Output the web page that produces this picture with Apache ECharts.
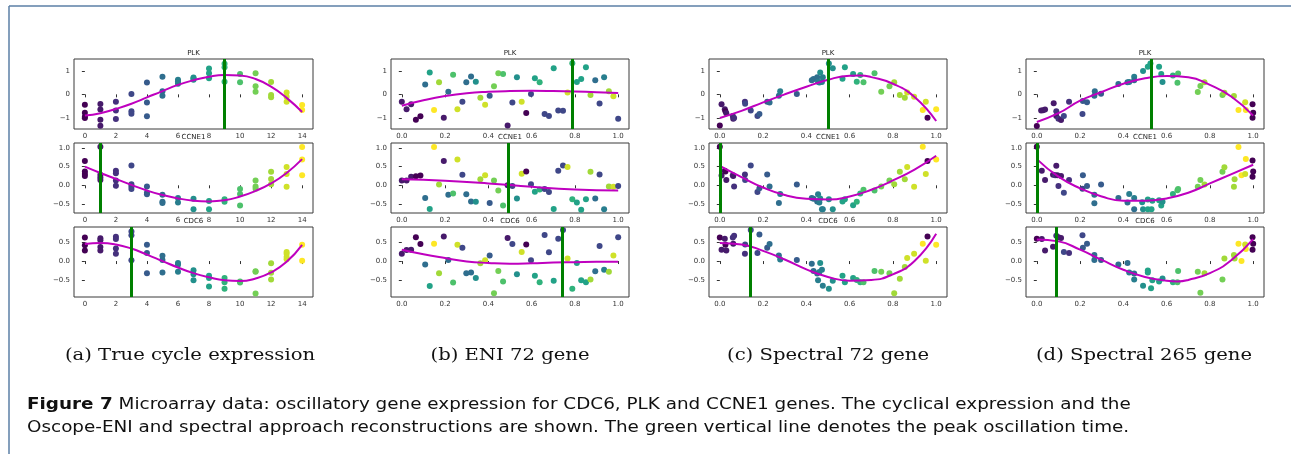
<!DOCTYPE html>
<html>
<head>
<meta charset="utf-8">
<script src="https://cdn.jsdelivr.net/npm/echarts@6/dist/echarts.min.js"></script>
<style>
  html, body { margin: 0; padding: 0; background: #fff; }
  #chart { width: 1291px; height: 454px; }
</style>
</head>
<body>
<div id="chart"></div>
<script>
// 基因名称与子图标题
const genes = ['PLK', 'CCNE1', 'CDC6'];
const captions = ['(a) True cycle expression', '(b) ENI 72 gene', '(c) Spectral 72 gene', '(d) Spectral 265 gene'];

// viridis 色带（按真实时间着色）
const viridis = ['#440154', '#482878', '#3e4989', '#31688e', '#26828e', '#1f9e89', '#35b779', '#6ece58', '#b5de2b', '#fde725'];

// (a) 真实周期: [时间, 表达量]
const plkTrue = [
    [0, -0.44], [0, -0.78], [0, -0.95], [0, -1.0],
    [1, -0.41], [1, -0.64], [1, -1.08], [1, -1.33],
    [2, -0.31], [2, -0.69], [2, -1.05],
    [3, 0.02], [3, -0.72], [3, -0.82],
    [4, 0.5], [4, -0.35], [4, -0.93],
    [5, 0.75], [5, 0.13], [5, -0.06],
    [6, 0.62], [6, 0.55], [6, 0.45],
    [7, 0.72], [7, 0.67], [7, 0.62],
    [8, 1.1], [8, 0.9], [8, 0.68],
    [9, 1.3], [9, 1.15], [9, 0.53],
    [10, 0.86], [10, 0.51],
    [11, 0.9], [11, 0.34], [11, 0.11],
    [12, 0.52], [12, -0.03], [12, -0.12],
    [13, 0.08], [13, -0.1], [13, -0.31],
    [14, -0.45], [14, -0.66]
];
const ccne1True = [
    [0, 0.65], [0, 0.37], [0, 0.3], [0, 0.25],
    [1, 1.03], [1, 0.28], [1, 0.21], [1, 0.14],
    [2, 0.39], [2, 0.32], [2, 0.13], [2, -0.01],
    [3, 0.53], [3, 0.03], [3, -0.03], [3, -0.1],
    [4, -0.03], [4, -0.2], [4, -0.24],
    [5, -0.25], [5, -0.44], [5, -0.47],
    [6, -0.34], [6, -0.46],
    [7, -0.36], [7, -0.64],
    [8, -0.42], [8, -0.64],
    [9, -0.37], [9, -0.44],
    [10, -0.1], [10, -0.23], [10, -0.54],
    [11, 0.13], [11, -0.03], [11, -0.09],
    [12, 0.36], [12, 0.17], [12, 0.03],
    [13, 0.49], [13, 0.3], [13, -0.04],
    [14, 1.02], [14, 0.69], [14, 0.27]
];
const cdc6True = [
    [0, 0.62], [0, 0.42], [0, 0.28],
    [1, 0.6], [1, 0.55], [1, 0.37], [1, 0.28],
    [2, 0.64], [2, 0.58], [2, 0.33], [2, 0.19],
    [3, 0.78], [3, 0.68], [3, 0.02],
    [4, 0.43], [4, 0.21], [4, -0.32],
    [5, 0.14], [5, 0.03], [5, -0.3],
    [6, -0.05], [6, -0.1], [6, -0.28],
    [7, -0.24], [7, -0.35], [7, -0.51],
    [8, -0.39], [8, -0.45], [8, -0.67],
    [9, -0.45], [9, -0.56], [9, -0.73],
    [10, -0.54], [10, -0.57],
    [11, -0.27], [11, -0.28], [11, -0.86],
    [12, -0.06], [12, -0.31], [12, -0.49],
    [13, 0.24], [13, 0.19], [13, 0.11], [13, 0.05],
    [14, 0.43], [14, 0.01]
];

// (b) ENI 72 gene: 伪时间位置、真实时间、各基因表达量
const xsB = [0.0, 0.022, 0.043, 0.065, 0.086, 0.108, 0.129, 0.149, 0.172, 0.194, 0.215, 0.237, 0.257, 0.28, 0.298, 0.32,
    0.342, 0.363, 0.385, 0.406, 0.426, 0.446, 0.468, 0.489, 0.511, 0.532, 0.554, 0.575, 0.597, 0.615, 0.637, 0.66,
    0.68, 0.702, 0.723, 0.745, 0.766, 0.788, 0.809, 0.829, 0.851, 0.872, 0.894, 0.914, 0.935, 0.957, 0.978, 1.0];
const tsB = [1, 1, 1, 0, 0, 5, 8, 14, 12, 1, 5, 10, 13, 3, 5, 5, 7, 12, 13, 4, 11, 11, 10, 1, 3, 7, 13, 0, 3, 8, 9, 3,
    3, 8, 3, 3, 13, 9, 8, 8, 8, 12, 5, 3, 6, 12, 13, 3];
const plkB = [-0.31, -0.63, -0.42, -1.08, -0.93, 0.42, 0.93, -0.66, 0.51, -0.99, 0.11, 0.83, -0.63, -0.31, 0.51, 0.76,
    0.54, -0.14, -0.44, -0.06, 0.34, 0.9, 0.86, -1.32, -0.35, 0.73, -0.31, -0.79, 0.01, 0.68, 0.51, -0.83,
    -0.92, 1.11, -0.68, -0.7, 0.08, 1.32, 0.52, 0.65, 1.15, -0.03, 0.6, -0.39, 0.73, 0.13, -0.08, -1.04];
const ccne1B = [0.13, 0.13, 0.23, 0.24, 0.26, -0.34, -0.63, 1.02, 0.02, 0.65, -0.25, -0.22, 0.69, 0.28, -0.24, -0.43,
    -0.44, 0.16, 0.27, -0.47, 0.13, -0.14, -0.54, 0.0, -0.02, -0.35, 0.31, 0.37, 0.03, -0.17, -0.11, -0.1,
    -0.18, -0.63, 0.39, 0.53, 0.49, -0.37, -0.46, -0.65, -0.37, 0.36, -0.35, 0.29, -0.64, -0.03, -0.04, -0.02];
const cdc6B = [0.19, 0.29, 0.3, 0.63, 0.45, -0.09, -0.66, 0.46, -0.32, 0.65, 0.03, -0.57, 0.43, 0.35, -0.32, -0.3,
    -0.45, -0.06, 0.02, 0.15, -0.85, -0.26, -0.54, 0.61, 0.45, -0.35, 0.24, 0.44, 0.02, -0.39, -0.56, 0.69,
    0.23, -0.52, 0.59, 0.82, 0.07, -0.73, -0.05, -0.51, -0.56, -0.49, -0.27, 0.4, -0.23, -0.28, 0.15, 0.63];

// (c) Spectral 72 gene
const xsC = [0.0, 0.008, 0.023, 0.026, 0.03, 0.06, 0.062, 0.066, 0.116, 0.117, 0.143, 0.174, 0.183, 0.219, 0.23, 0.273,
    0.279, 0.356, 0.425, 0.433, 0.45, 0.454, 0.46, 0.464, 0.472, 0.476, 0.504, 0.522, 0.567, 0.578, 0.616, 0.633,
    0.649, 0.664, 0.715, 0.746, 0.784, 0.806, 0.832, 0.855, 0.866, 0.898, 0.938, 0.952, 0.96, 1.0];
const tsC = [0, 1, 1, 0, 1, 2, 1, 2, 2, 3, 3, 3, 4, 4, 5, 5, 6, 4, 5, 5, 5, 6, 6, 7, 6, 6, 7, 7, 8, 8, 8, 9,
    9, 10, 10, 11, 11, 12, 12, 12, 13, 13, 14, 13, 0, 14];
const plkC = [-1.32, -0.42, -0.63, -0.72, -0.8, -0.92, -1.04, -1.0, -0.31, -0.4, -0.69, -0.92, -0.83, -0.31, -0.35, -0.06,
    0.13, 0.01, 0.6, 0.65, 0.73, 0.53, 0.5, 0.93, 0.52, 0.73, 1.31, 1.11, 0.66, 1.15, 0.86, 0.54,
    0.82, 0.51, 0.9, 0.11, 0.34, 0.51, -0.03, -0.14, 0.08, -0.1, -0.66, -0.31, -0.99, -0.63];
const ccne1C = [1.03, 0.26, 0.39, 0.37, 0.14, 0.27, 0.25, -0.03, 0.29, 0.14, 0.53, -0.18, -0.08, 0.29, -0.03, -0.47,
    -0.23, 0.02, -0.34, -0.36, -0.43, -0.24, -0.46, -0.35, -0.64, -0.64, -0.37, -0.64, -0.43, -0.37, -0.53, -0.44,
    -0.22, -0.12, -0.14, -0.03, 0.13, 0.03, 0.36, 0.16, 0.49, -0.04, 1.03, 0.3, 0.65, 0.69];
const cdc6C = [0.62, 0.3, 0.59, 0.43, 0.28, 0.62, 0.46, 0.67, 0.19, 0.44, 0.82, 0.21, 0.7, 0.35, 0.45, 0.15,
    0.04, 0.03, -0.07, -0.26, -0.33, -0.51, -0.29, -0.05, -0.23, -0.65, -0.73, -0.52, -0.39, -0.56, -0.45, -0.5,
    -0.56, -0.56, -0.26, -0.28, -0.32, -0.85, -0.47, -0.16, 0.08, 0.19, 0.46, 0.01, 0.65, 0.43];

// (d) Spectral 265 gene: [伪时间, 表达量, 真实时间]
const plkD = [
    [0.0, -1.34, 0], [0.02, -0.69, 1], [0.029, -0.67, 1], [0.038, -0.64, 1], [0.078, -0.38, 1], [0.09, -0.72, 2],
    [0.09, -0.92, 1], [0.1, -1.03, 2], [0.112, -1.09, 1], [0.125, -0.92, 3], [0.149, -0.31, 2], [0.211, -0.83, 3],
    [0.213, -0.28, 4], [0.232, -0.34, 4], [0.268, 0.13, 5], [0.266, -0.06, 5], [0.297, 0.03, 4], [0.377, 0.44, 5],
    [0.419, 0.51, 5], [0.427, 0.52, 6], [0.45, 0.75, 6], [0.45, 0.6, 5], [0.491, 0.99, 7], [0.513, 1.17, 8],
    [0.525, 1.31, 8], [0.565, 1.17, 8], [0.575, 0.86, 8], [0.581, 0.52, 7], [0.629, 0.8, 9], [0.653, 0.89, 10],
    [0.65, 0.49, 10], [0.744, 0.1, 11], [0.756, 0.35, 11], [0.775, 0.51, 12], [0.858, -0.03, 11], [0.867, 0.07, 12],
    [0.911, -0.07, 12], [0.932, -0.66, 14], [0.963, -0.33, 13], [0.966, -0.66, 14], [0.997, -0.42, 0],
    [1.0, -0.78, 0], [0.997, -0.99, 0]
];
const ccne1D = [
    [0.0, 1.03, 0], [0.023, 0.39, 1], [0.038, 0.14, 1], [0.075, 0.28, 1], [0.085, 0.27, 2], [0.09, 0.52, 1],
    [0.095, 0.27, 1], [0.1, -0.02, 2], [0.112, 0.25, 1], [0.125, -0.2, 3], [0.149, 0.14, 2], [0.211, -0.09, 3],
    [0.213, 0.27, 4], [0.232, -0.02, 4], [0.266, -0.25, 5], [0.266, -0.48, 5], [0.297, 0.02, 4], [0.377, -0.34, 5],
    [0.419, -0.46, 5], [0.427, -0.23, 6], [0.45, -0.34, 6], [0.45, -0.64, 5], [0.491, -0.64, 7], [0.487, -0.45, 7],
    [0.513, -0.38, 8], [0.513, -0.64, 8], [0.534, -0.41, 8], [0.53, -0.64, 8], [0.565, -0.4, 8], [0.575, -0.54, 8],
    [0.581, -0.44, 7], [0.629, -0.23, 9], [0.65, -0.13, 10], [0.653, -0.1, 10], [0.744, -0.04, 11], [0.756, 0.14, 11],
    [0.775, 0.02, 12], [0.858, 0.36, 11], [0.867, 0.48, 12], [0.911, -0.04, 12], [0.914, 0.16, 12], [0.932, 1.02, 14],
    [0.946, 0.27, 14], [0.963, 0.3, 13], [0.966, 0.7, 14], [0.997, 0.66, 0], [1.0, 0.37, 0], [0.997, 0.23, 0]
];
const cdc6D = [
    [0.0, 0.59, 0], [0.023, 0.58, 1], [0.038, 0.28, 1], [0.075, 0.38, 1], [0.09, 0.67, 2], [0.1, 0.63, 1],
    [0.112, 0.61, 1], [0.125, 0.24, 3], [0.149, 0.21, 2], [0.211, 0.68, 3], [0.213, 0.35, 4], [0.232, 0.46, 4],
    [0.266, 0.16, 5], [0.266, 0.03, 5], [0.297, 0.03, 4], [0.377, -0.09, 5], [0.419, -0.05, 5], [0.427, -0.3, 6],
    [0.45, -0.49, 6], [0.45, -0.33, 5], [0.491, -0.65, 7], [0.513, -0.25, 8], [0.513, -0.3, 8], [0.528, -0.72, 8],
    [0.534, -0.51, 8], [0.565, -0.54, 8], [0.581, -0.46, 7], [0.629, -0.56, 9], [0.65, -0.56, 10], [0.653, -0.26, 10],
    [0.744, -0.28, 11], [0.756, -0.84, 11], [0.775, -0.32, 12], [0.858, -0.49, 11], [0.867, 0.07, 12], [0.911, 0.16, 12],
    [0.914, 0.07, 12], [0.932, 0.46, 14], [0.946, 0.0, 14], [0.963, 0.44, 13], [0.966, 0.32, 14], [0.997, 0.63, 0],
    [1.0, 0.46, 0], [0.997, 0.3, 0]
];

// 拟合曲线（从图中读取的点）
const fitPlkA = [[0, -0.9], [1, -0.8], [2, -0.62], [3, -0.4], [4, -0.13], [5, 0.14], [6, 0.4], [7, 0.6], [8, 0.75], [9, 0.82], [10, 0.8], [11, 0.65], [12, 0.33], [13, -0.15], [14, -0.75]];
const fitCcne1A = [[0, 0.5], [1, 0.33], [2, 0.17], [3, 0.01], [4, -0.14], [5, -0.26], [6, -0.35], [7, -0.41], [8, -0.43], [9, -0.4], [10, -0.3], [11, -0.15], [12, 0.05], [13, 0.33], [14, 0.7]];
const fitCdc6A = [[0, 0.45], [1, 0.48], [2, 0.44], [3, 0.33], [4, 0.17], [5, 0.0], [6, -0.17], [7, -0.32], [8, -0.43], [9, -0.51], [10, -0.53], [11, -0.46], [12, -0.3], [13, -0.02], [14, 0.43]];
const fitPlkB = [[0, -0.48], [0.1, -0.25], [0.2, -0.07], [0.3, 0.05], [0.4, 0.11], [0.5, 0.14], [0.6, 0.15], [0.7, 0.14], [0.8, 0.12], [0.9, 0.09], [1.0, 0.06]];
const fitCcne1B = [[0, 0.16], [0.2, 0.12], [0.4, 0.05], [0.6, -0.04], [0.8, -0.11], [1.0, -0.14]];
const fitCdc6B = [[0, 0.3], [0.1, 0.18], [0.2, 0.08], [0.3, -0.01], [0.4, -0.05], [0.5, -0.07], [0.6, -0.06], [0.7, -0.04], [0.8, -0.03], [0.9, -0.02], [1.0, -0.02]];
const fitPlkC = [[0, -1.0], [0.1, -0.7], [0.2, -0.34], [0.3, 0.0], [0.4, 0.32], [0.5, 0.62], [0.6, 0.79], [0.65, 0.8], [0.7, 0.73], [0.8, 0.45], [0.9, -0.11], [1.0, -1.13]];
const fitCcne1C = [[0, 0.52], [0.1, 0.22], [0.2, -0.06], [0.3, -0.26], [0.4, -0.36], [0.5, -0.38], [0.6, -0.3], [0.7, -0.12], [0.8, 0.13], [0.9, 0.42], [1.0, 0.79]];
const fitCdc6C = [[0, 0.48], [0.1, 0.44], [0.2, 0.27], [0.3, 0.04], [0.4, -0.22], [0.5, -0.42], [0.6, -0.52], [0.7, -0.5], [0.8, -0.35], [0.9, 0.0], [1.0, 0.72]];
const fitPlkD = [[0, -1.17], [0.1, -0.8], [0.2, -0.27], [0.3, 0.1], [0.4, 0.45], [0.5, 0.68], [0.6, 0.78], [0.7, 0.73], [0.8, 0.4], [0.9, -0.1], [1.0, -0.9]];
const fitCcne1D = [[0, 0.7], [0.1, 0.23], [0.2, -0.08], [0.3, -0.3], [0.4, -0.41], [0.5, -0.41], [0.6, -0.35], [0.7, -0.2], [0.8, 0.05], [0.9, 0.3], [1.0, 0.55]];
const fitCdc6D = [[0, 0.57], [0.1, 0.52], [0.2, 0.3], [0.3, 0.03], [0.4, -0.23], [0.5, -0.42], [0.6, -0.52], [0.65, -0.54], [0.7, -0.5], [0.8, -0.32], [0.9, 0.03], [1.0, 0.58]];

// 峰值振荡时间（绿色竖线） [PLK, CCNE1, CDC6]
const peaksA = [9, 1, 3];
const peaksB = [0.785, 0.49, 0.745];
const peaksC = [0.5, 0.0, 0.145];
const peaksD = [0.525, 0.0, 0.09];

// 刻度
const xTicksTime = [0, 2, 4, 6, 8, 10, 12, 14];
const xTicksUnit = [0, 0.2, 0.4, 0.6, 0.8, 1.0];
const yTicks = [[-1, 0, 1], [-0.5, 0, 0.5, 1.0], [-0.5, 0, 0.5]];

/**
 * 组装子图数据
 */
function zipPoints(xs, ys, ts) {
    return xs.map((x, i) => [x, ys[i], ts[i]]);
}
const trueTo3 = arr => arr.map(p => [p[0], p[1], p[0]]);

const panels = [
    {pts: [trueTo3(plkTrue), trueTo3(ccne1True), trueTo3(cdc6True)], fits: [fitPlkA, fitCcne1A, fitCdc6A], peaks: peaksA},
    {pts: [zipPoints(xsB, plkB, tsB), zipPoints(xsB, ccne1B, tsB), zipPoints(xsB, cdc6B, tsB)], fits: [fitPlkB, fitCcne1B, fitCdc6B], peaks: peaksB},
    {pts: [zipPoints(xsC, plkC, tsC), zipPoints(xsC, ccne1C, tsC), zipPoints(xsC, cdc6C, tsC)], fits: [fitPlkC, fitCcne1C, fitCdc6C], peaks: peaksC},
    {pts: [plkD, ccne1D, cdc6D], fits: [fitPlkD, fitCcne1D, fitCdc6D], peaks: peaksD}
];

// 布局
const colLeft = [74, 391, 709, 1026];
const colWidth = [239, 238, 238, 238];
const rowTop = [59, 143, 227];
const rowHeight = 70;
const yRange = [[-1.47, 1.5], [-0.74, 1.13], [-0.95, 0.9]];
const yDec = [0, 1, 1];

function fmt(v, d) {
    const s = Math.abs(v).toFixed(d);
    return (v < -1e-9 ? '\u2212' : '') + s;
}

let grids = [], xAxes = [], yAxes = [], series = [], scatterIdx = [], graphics = [];
const tickStyle = {fontSize: 7, color: '#333', fontFamily: 'DejaVu Sans'};

panels.forEach((panel, c) => {
    for (let r = 0; r < 3; r++) {
        const gi = grids.length;
        grids.push({
            left: colLeft[c], top: rowTop[r], width: colWidth[c], height: rowHeight,
            show: true, borderColor: '#3a3a3a', borderWidth: 1, backgroundColor: 'transparent'
        });
        const isTime = c === 0;
        const xt = isTime ? xTicksTime : xTicksUnit;
        xAxes.push({
            type: 'value', gridIndex: gi,
            min: isTime ? -0.7 : -0.05, max: isTime ? 14.7 : 1.05,
            axisLine: {show: false}, splitLine: {show: false},
            axisTick: {show: true, length: 3, customValues: xt, lineStyle: {color: '#333'}},
            axisLabel: Object.assign({customValues: xt, margin: 4, formatter: v => fmt(v, isTime ? 0 : 1)}, tickStyle)
        });
        yAxes.push({
            type: 'value', gridIndex: gi,
            min: yRange[r][0], max: yRange[r][1],
            axisLine: {show: false}, splitLine: {show: false},
            axisTick: {show: true, length: 3, customValues: yTicks[r], lineStyle: {color: '#333'}},
            axisLabel: Object.assign({customValues: yTicks[r], margin: 4, formatter: v => fmt(v, yDec[r])}, tickStyle)
        });
        scatterIdx.push(series.length);
        series.push({
            type: 'scatter', xAxisIndex: gi, yAxisIndex: gi,
            data: panel.pts[r], symbolSize: 6, silent: true, z: 2,
            itemStyle: {opacity: 1}
        });
        series.push({
            type: 'line', xAxisIndex: gi, yAxisIndex: gi,
            data: panel.fits[r], smooth: 0.5, showSymbol: false, silent: true, z: 3,
            lineStyle: {color: '#bf00bf', width: 2},
            markLine: {
                silent: true, symbol: ['none', 'arrow'], symbolSize: [0, 7],
                label: {show: false},
                lineStyle: {color: '#008000', width: 3, type: 'solid'},
                emphasis: {disabled: true},
                data: [{xAxis: panel.peaks[r]}]
            }
        });
        // 基因名称
        graphics.push({
            type: 'text', x: colLeft[c] + colWidth[c] / 2, y: rowTop[r] - 6,
            style: {text: genes[r], font: '7px DejaVu Sans', fill: '#222', textAlign: 'center', textVerticalAlign: 'middle'}
        });
    }
});

// 子图说明
const captionX = [190, 510, 828, 1144];
captions.forEach((t, i) => {
    graphics.push({
        type: 'text', x: captionX[i], y: 355, scaleX: 1.12,
        style: {text: t, font: '17.5px DejaVu Serif', fill: '#111', textAlign: 'center', textVerticalAlign: 'middle'}
    });
});

// 图注
graphics.push({
    type: 'text', x: 27, y: 405, scaleX: 1.185,
    style: {
        text: '{b|Figure 7} Microarray data: oscillatory gene expression for CDC6, PLK and CCNE1 genes. The cyclical expression and the',
        font: '15.5px DejaVu Sans', fill: '#111', textVerticalAlign: 'middle',
        rich: {b: {fontWeight: 'bold', fontSize: 15.5, fontFamily: 'DejaVu Sans', fill: '#111'}}
    }
});
graphics.push({
    type: 'text', x: 27, y: 428, scaleX: 1.185,
    style: {
        text: 'Oscope-ENI and spectral approach reconstructions are shown. The green vertical line denotes the peak oscillation time.',
        font: '15.5px DejaVu Sans', fill: '#111', textVerticalAlign: 'middle'
    }
});

// 页面边框
graphics.push({type: 'line', shape: {x1: 9, y1: 6, x2: 1291, y2: 6}, style: {stroke: '#5b7fa6', lineWidth: 1.5}});
graphics.push({type: 'line', shape: {x1: 9, y1: 6, x2: 9, y2: 454}, style: {stroke: '#5b7fa6', lineWidth: 1.5}});

const chart = echarts.init(document.getElementById('chart'), null, {renderer: 'canvas'});
chart.setOption({
    animation: false,
    backgroundColor: '#fff',
    grid: grids,
    xAxis: xAxes,
    yAxis: yAxes,
    visualMap: {
        type: 'continuous', show: false, dimension: 2, min: 0, max: 14,
        seriesIndex: scatterIdx, inRange: {color: viridis}
    },
    series: series,
    graphic: graphics
});
</script>
</body>
</html>
